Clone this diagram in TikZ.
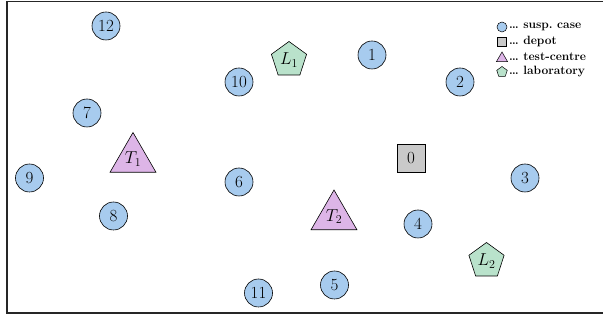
\documentclass[tikz,border=0pt]{standalone}
\usetikzlibrary{shapes.geometric}
\definecolor{casec}{HTML}{A7CBEE}
\definecolor{testc}{HTML}{DDB5E7}
\definecolor{labc}{HTML}{B9E2CB}
\definecolor{depc}{HTML}{C9C9C9}
\newcommand{\numfont}{\fontsize{17}{20}\selectfont}
\newcommand{\legfont}{\fontsize{12}{14}\selectfont\bfseries}
\tikzset{
  lbl/.style={inner sep=0pt},
  casenode/.style={lbl, circle, draw=black, line width=0.6pt, fill=casec, minimum size=28pt},
  depotnode/.style={lbl, rectangle, draw=black, line width=0.6pt, fill=depc, minimum size=28pt},
  testnode/.style={lbl, regular polygon, regular polygon sides=3, draw=black, line width=0.6pt, fill=testc, minimum size=53pt},
  labnode/.style={lbl, regular polygon, regular polygon sides=5, draw=black, line width=0.6pt, fill=labc, minimum size=37pt},
  legsym/.style={draw=black, line width=0.5pt, inner sep=0pt},
  legtext/.style={anchor=west, inner sep=0pt},
}
\begin{document}
\begin{tikzpicture}[x=1pt, y=-1pt]
\useasboundingbox (0,0) rectangle (603,320);
\draw[line width=1.3pt, black!85] (7,1.5) rectangle (610,313);
% suspected cases
\node[casenode] (c12) at (106,26) {\numfont 12};
\node[casenode] (c1) at (372,55) {\numfont 1};
\node[casenode] (c10) at (239,82) {\numfont 10};
\node[casenode] (c2) at (460,82) {\numfont 2};
\node[casenode] (c7) at (87,113) {\numfont 7};
\node[casenode] (c9) at (29.5,178) {\numfont 9};
\node[casenode] (c6) at (239,182) {\numfont 6};
\node[casenode] (c3) at (525,178) {\numfont 3};
\node[casenode] (c8) at (113.5,216) {\numfont 8};
\node[casenode] (c4) at (418,224) {\numfont 4};
\node[casenode] (c5) at (334.5,285) {\numfont 5};
\node[casenode] (c11) at (258.5,293) {\numfont 11};
% depot
\node[depotnode] (d0) at (411,158.5) {\numfont 0};
% test centres
\node[testnode] (t1) at (133,159) {\numfont $T_1$};
\node[testnode] (t2) at (334,216.5) {\numfont $T_2$};
% laboratories
\node[labnode] (l1) at (289,60) {\numfont $L_1$};
\node[labnode] (l2) at (486.5,261) {\numfont $L_2$};
% legend
\node[legsym, circle, fill=casec, minimum size=10pt] (k1) at (502,27) {};
\node[legsym, rectangle, fill=depc, minimum size=9pt] (k2) at (502,42) {};
\node[legsym, regular polygon, regular polygon sides=3, fill=testc, minimum size=13pt] (k3) at (502,58.5) {};
\node[legsym, regular polygon, regular polygon sides=5, fill=labc, minimum size=11pt] (k4) at (502,72) {};
\node[legtext] (k1t) at (509,27) {\legfont\ldots\ susp.\ case};
\node[legtext] (k2t) at (509,42) {\legfont\ldots\ depot};
\node[legtext] (k3t) at (509,57) {\legfont\ldots\ test-centre};
\node[legtext] (k4t) at (509,72) {\legfont\ldots\ laboratory};
\end{tikzpicture}
\end{document}
